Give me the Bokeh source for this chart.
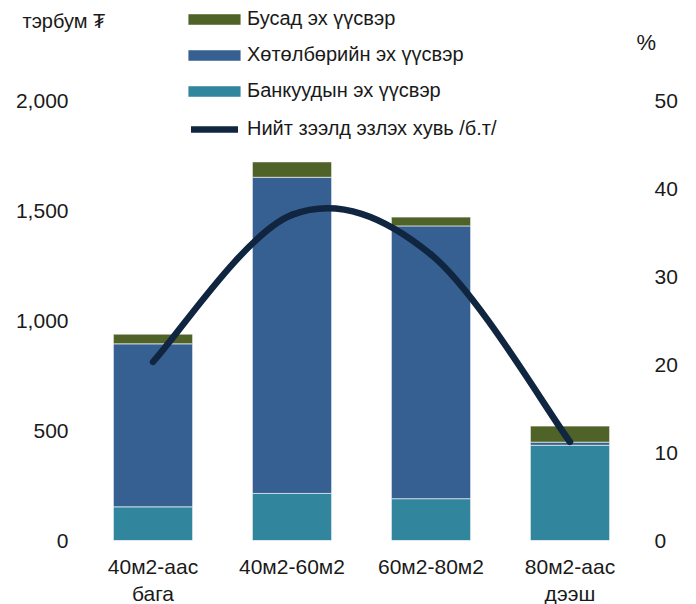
from bokeh.plotting import figure
from bokeh.models import (Range1d, LinearAxis, FixedTicker, NumeralTickFormatter,
                          Legend, LegendItem, Label, ColumnDataSource)
from bokeh.embed import file_html
from bokeh.resources import INLINE

# ---- data ----
categories = ["40м2-аас\nбага", "40м2-60м2", "60м2-80м2", "80м2-аас\nдээш"]
banks = [153, 214, 190, 433]
program = [741, 1437, 1240, 14]
other = [44, 70, 40, 73]
share = [20.3, 37.0, 32.5, 11.2]
left_ticks = [0, 500, 1000, 1500, 2000]
right_ticks = [0, 10, 20, 30, 40, 50]
series_names = ["Банкуудын эх үүсвэр", "Хөтөлбөрийн эх үүсвэр", "Бусад эх үүсвэр"]
line_name = "Нийт зээлд эзлэх хувь /б.т/"
left_unit = "тэрбум ₮"
right_unit = "%"

FONT = "Liberation Sans"
TXT = "#1a1a1a"
colors = ["#31859C", "#376092", "#4F6228"]
line_color = "#10253F"

n = len(categories)
xs = list(range(n))

# layout geometry (pixels): frame spans the whole top area so that legends/labels fit in it
FL, FR, FB = 15, 661, 540          # frame left, right, bottom (page px)
CAT_PX = 139                       # px per category
PLOT_L = 83                        # where category -0.5 sits
PX_PER_UNIT = 0.22                 # left axis px per unit
PX_PER_PCT = 8.8                   # right axis px per percent

x_start = -0.5 - (PLOT_L - FL) / CAT_PX
x_end = -0.5 + (FR - PLOT_L) / CAT_PX

p = figure(frame_width=FR - FL, frame_height=FB, output_backend="svg", toolbar_location=None,
           x_range=Range1d(x_start, x_end), y_range=Range1d(0, FB / PX_PER_UNIT),
           min_border_left=FL, min_border_right=30, min_border_top=0, min_border_bottom=60)
p.extra_y_ranges = {"pct": Range1d(0, FB / PX_PER_PCT)}
p.outline_line_color = None
p.grid.visible = False
p.background_fill_color = "white"

src = ColumnDataSource(dict(x=xs, banks=banks, program=program, other=other))
bars = p.vbar_stack(["banks", "program", "other"], x="x", width=0.57, source=src,
                    color=colors, line_color="white", line_alpha=0.6, line_width=1)

# smoothed line (Excel-style Bezier through the data points)
x0, y0, x1, y1, cx0, cy0, cx1, cy1 = [], [], [], [], [], [], [], []
for i in range(n - 1):
    ip = i - 1 if i > 0 else i
    inx = i + 2 if i + 2 < n else i + 1
    x0.append(xs[i]); y0.append(share[i])
    x1.append(xs[i + 1]); y1.append(share[i + 1])
    cx0.append(xs[i] + (xs[i + 1] - xs[ip]) / 6)
    cy0.append(share[i] + (share[i + 1] - share[ip]) / 6)
    cx1.append(xs[i + 1] - (xs[inx] - xs[i]) / 6)
    cy1.append(share[i + 1] - (share[inx] - share[i]) / 6)
p.bezier(x0=x0, y0=y0, x1=x1, y1=y1, cx0=cx0, cy0=cy0, cx1=cx1, cy1=cy1,
         y_range_name="pct", line_color=line_color, line_width=6.5, line_cap="round")
leg_line = p.line(x=[float("nan")], y=[float("nan")], y_range_name="pct",
                  line_color=line_color, line_width=6.5, line_cap="round")


def style_axis(ax, standoff):
    ax.axis_line_color = None
    ax.major_tick_line_color = None
    ax.minor_tick_line_color = None
    ax.major_tick_out = 0
    ax.major_tick_in = 0
    ax.minor_tick_out = 0
    ax.minor_tick_in = 0
    ax.major_label_text_font = FONT
    ax.major_label_text_font_size = "21px"
    ax.major_label_text_color = TXT
    ax.major_label_standoff = standoff


style_axis(p.xaxis[0], 14)
p.xaxis.ticker = FixedTicker(ticks=xs)
p.xaxis.major_label_overrides = {i: c for i, c in enumerate(categories)}

style_axis(p.yaxis[0], -(68 - FL))
p.yaxis.ticker = FixedTicker(ticks=left_ticks)
p.yaxis.formatter = NumeralTickFormatter(format="0,0")

ra = LinearAxis(y_range_name="pct", ticker=FixedTicker(ticks=right_ticks))
style_axis(ra, -(FR - 654))
p.add_layout(ra, "right")

# legends (location = bottom-left corner, relative to the frame)
leg1 = Legend(items=[LegendItem(label=series_names[2], renderers=[bars[2]]),
                     LegendItem(label=series_names[1], renderers=[bars[1]]),
                     LegendItem(label=series_names[0], renderers=[bars[0]])],
              location=(181 - FL, 438), glyph_width=66, glyph_height=14, label_standoff=0,
              spacing=13, padding=0, margin=0, border_line_alpha=0, background_fill_alpha=0,
              label_text_font=FONT, label_text_font_size="20px", label_text_color=TXT)
leg2 = Legend(items=[LegendItem(label=line_name, renderers=[leg_line])],
              location=(191 - FL, 400), glyph_width=47, glyph_height=14, label_standoff=9,
              padding=0, margin=0, border_line_alpha=0, background_fill_alpha=0,
              label_text_font=FONT, label_text_font_size="20px", label_text_color=TXT)
p.add_layout(leg1)
p.add_layout(leg2)

p.add_layout(Label(x=(22 - PLOT_L) / CAT_PX - 0.5, y=(FB - 20) / PX_PER_UNIT, text=left_unit,
                   text_font=FONT, text_font_size="20px", text_color=TXT,
                   text_baseline="middle"))
p.add_layout(Label(x=(636 - PLOT_L) / CAT_PX - 0.5, y=(FB - 42) / PX_PER_UNIT, text=right_unit,
                   text_font=FONT, text_font_size="22px", text_color=TXT,
                   text_baseline="middle"))

open("out.html", "w").write(file_html(p, INLINE))
